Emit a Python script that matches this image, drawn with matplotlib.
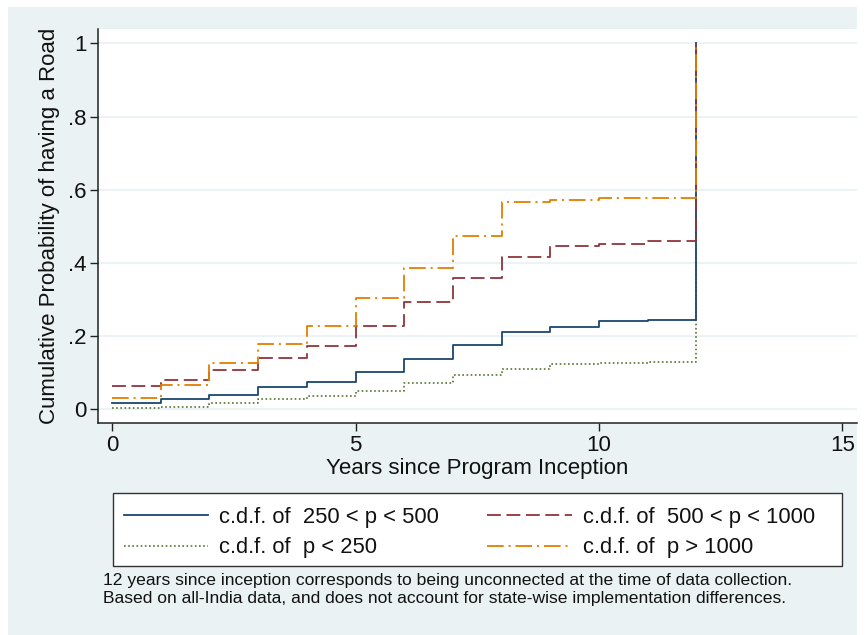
import matplotlib
matplotlib.use("Agg")
import matplotlib.pyplot as plt
from matplotlib.patches import Rectangle
from matplotlib.lines import Line2D

# ---- data ----
years = [0, 1, 2, 3, 4, 5, 6, 7, 8, 9, 10, 11, 12]
cdf_250_500 = [0.016, 0.027, 0.039, 0.061, 0.076, 0.103, 0.137, 0.175, 0.210, 0.226, 0.241, 0.245, 1.0]
cdf_lt_250 = [0.003, 0.005, 0.017, 0.027, 0.036, 0.050, 0.073, 0.093, 0.111, 0.123, 0.126, 0.130, 1.0]
cdf_500_1000 = [0.065, 0.080, 0.107, 0.141, 0.172, 0.229, 0.294, 0.359, 0.416, 0.447, 0.451, 0.459, 1.0]
cdf_gt_1000 = [0.030, 0.066, 0.126, 0.179, 0.229, 0.303, 0.387, 0.475, 0.567, 0.573, 0.578, 0.578, 1.0]

labels = ["c.d.f. of  250 < p < 500", "c.d.f. of  p < 250",
          "c.d.f. of  500 < p < 1000", "c.d.f. of  p > 1000"]
yticks = [0, 0.2, 0.4, 0.6, 0.8, 1.0]
ytick_labels = ["0", ".2", ".4", ".6", ".8", "1"]
xticks = [0, 5, 10, 15]
xtick_labels = ["0", "5", "10", "15"]
notes = ["12 years since inception corresponds to being unconnected at the time of data collection.",
         "Based on all-India data, and does not account for state-wise implementation differences."]

plt.rcParams['font.family'] = ['Liberation Sans', 'DejaVu Sans']
plt.rcParams['lines.scale_dashes'] = False

W, H = 865, 635
fig = plt.figure(figsize=(W / 100, H / 100), dpi=100)
fig.patch.set_facecolor('white')
bg = '#EAF2F3'
fig.patches.append(Rectangle((8 / W, 0), (857 - 8) / W, (H - 7) / H,
                             transform=fig.transFigure, facecolor=bg,
                             edgecolor='none', zorder=-10))

ax = fig.add_axes([97.5 / W, 1 - 422.7 / H, (857 - 97.5) / W, (422.7 - 29) / H])
ax.set_facecolor('white')

navy = '#1a476f'
maroon = '#90353b'
forest = '#55752f'
orange = '#e37e00'

styles = [
    dict(color=navy, linestyle='-', lw=1.3),
    dict(color=forest, linestyle=(0, (1.2, 1.8)), lw=1.2),
    dict(color=maroon, linestyle=(0, (10, 4)), lw=1.3),
    dict(color=orange, linestyle=(0, (12, 3.5, 1.5, 3.5)), lw=1.3),
]
series = [cdf_250_500, cdf_lt_250, cdf_500_1000, cdf_gt_1000]
draw_order = [1, 0, 2, 3]
for i in draw_order:
    ax.step(years, series[i], where='post', **styles[i])

ax.set_xlim(-0.30, 15.30)
ax.set_ylim(-0.0366, 1.0396)
ax.set_yticks(yticks)
ax.set_yticklabels(ytick_labels)
ax.set_xticks(xticks)
ax.set_xticklabels(xtick_labels)
ax.yaxis.grid(True, color=bg, lw=1.3)
ax.set_axisbelow(True)
for s in ['top', 'right']:
    ax.spines[s].set_visible(False)
for s in ['left', 'bottom']:
    ax.spines[s].set_color('#222222')
    ax.spines[s].set_linewidth(1.1)
ax.tick_params(direction='out', length=6, width=1.0, color='#222222',
               labelsize=16, labelcolor='#111111')
ax.tick_params(axis='y', pad=2)
ax.tick_params(axis='x', pad=3)
ax.set_xlabel("Years since Program Inception", fontsize=16, color='#111111', labelpad=1)
ax.set_ylabel("Cumulative Probability of having a Road", fontsize=16, color='#111111', labelpad=6)

# legend frame
fig.patches.append(Rectangle((112.7 / W, 1 - 566 / H), (841.7 - 112.7) / W, (566 - 493.3) / H,
                             transform=fig.transFigure, facecolor='white',
                             edgecolor='#333333', lw=1.0, zorder=1))
handles = [Line2D([], [], **styles[i]) for i in range(4)]
leg = fig.legend(handles, labels, ncol=2, loc='upper left',
                 bbox_to_anchor=(124 / W, 1 - 507 / H), frameon=False,
                 fontsize=15.8, handlelength=3.85, handletextpad=0.5,
                 columnspacing=2.18, labelspacing=0.42, borderpad=0,
                 borderaxespad=0)
leg.set_zorder(2)
for t in leg.get_texts():
    t.set_color('#111111')

fig.text(103 / W, 1 - 580 / H, notes[0], fontsize=12.6, va='center', ha='left', color='#111111')
fig.text(103 / W, 1 - 599 / H, notes[1], fontsize=12.6, va='center', ha='left', color='#111111')

fig.savefig('out.png', dpi=100)
